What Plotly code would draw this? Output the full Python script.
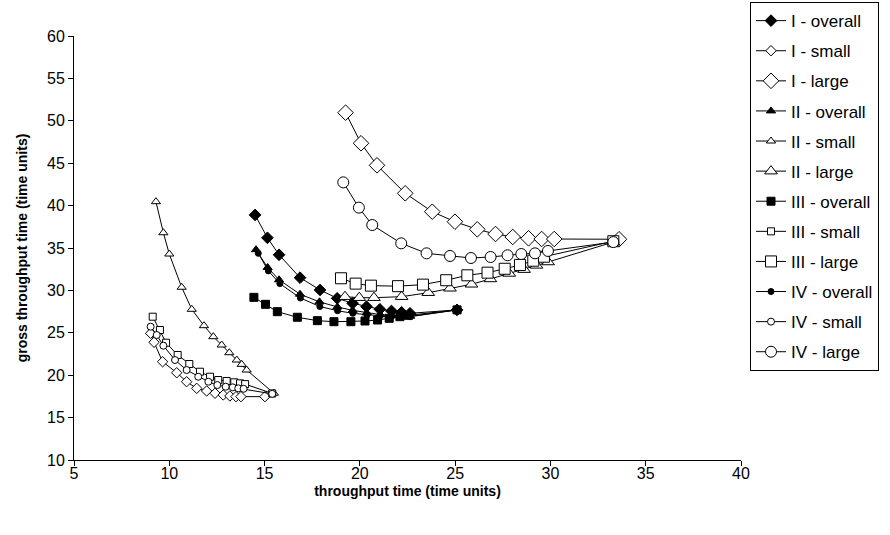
import plotly.graph_objects as go

# ---- data ----
I_overall_x = [14.5, 15.15, 15.76, 16.86, 17.91, 18.81, 19.62, 20.35, 21.05, 21.66, 22.19, 22.63, 25.1]
I_overall_y = [38.9, 36.2, 34.2, 31.5, 30.05, 29.07, 28.48, 28.08, 27.77, 27.57, 27.42, 27.3, 27.7]
I_small_x = [9.02, 9.2, 9.65, 10.39, 10.91, 11.44, 11.96, 12.4, 12.83, 13.18, 13.5, 13.76, 15.02]
I_small_y = [24.94, 23.88, 21.59, 20.29, 19.23, 18.45, 18.14, 17.87, 17.67, 17.55, 17.47, 17.47, 17.47]
I_large_x = [19.25, 20.06, 20.9, 22.38, 23.8, 24.99, 26.16, 27.12, 28.02, 28.85, 29.54, 30.2, 33.6]
I_large_y = [50.96, 47.35, 44.75, 41.45, 39.28, 38.1, 37.2, 36.65, 36.3, 36.14, 36.06, 36.06, 36.03]

II_overall_x = [14.55, 15.16, 15.76, 16.86, 17.88, 18.82, 19.62, 20.36, 21.06, 21.67, 22.2, 22.64, 25.1]
II_overall_y = [34.8, 32.7, 31.25, 29.55, 28.65, 28.05, 27.65, 27.35, 27.15, 27.05, 26.95, 26.95, 27.7]
II_small_x = [9.3, 9.69, 10.0, 10.65, 11.18, 11.82, 12.31, 12.75, 13.15, 13.54, 13.8, 14.06, 15.49]
II_small_y = [40.46, 36.8, 34.29, 30.37, 27.77, 25.84, 24.54, 23.56, 22.65, 21.79, 21.28, 20.61, 17.87]
II_large_x = [19.22, 19.97, 20.74, 22.19, 23.59, 24.73, 25.86, 26.85, 27.84, 28.62, 29.27, 29.88, 33.3]
II_large_y = [29.26, 29.14, 29.14, 29.26, 29.73, 30.25, 30.72, 31.35, 32.0, 32.45, 32.95, 33.35, 35.7]

III_overall_x = [14.44, 15.05, 15.67, 16.72, 17.77, 18.64, 19.53, 20.27, 20.93, 21.54, 22.1, 22.54, 25.1]
III_overall_y = [29.18, 28.36, 27.49, 26.83, 26.43, 26.31, 26.31, 26.39, 26.51, 26.71, 26.9, 27.06, 27.7]
III_small_x = [9.13, 9.51, 9.83, 10.44, 11.05, 11.61, 12.14, 12.57, 13.01, 13.41, 13.71, 13.98, 15.4]
III_small_y = [26.9, 25.33, 23.83, 22.38, 21.32, 20.41, 19.82, 19.43, 19.32, 19.16, 19.04, 18.95, 17.85]
III_large_x = [19.01, 19.78, 20.58, 22.0, 23.31, 24.53, 25.64, 26.7, 27.6, 28.4, 29.1, 29.66, 33.3]
III_large_y = [31.43, 30.8, 30.56, 30.5, 30.68, 31.2, 31.78, 32.09, 32.55, 33.0, 33.5, 33.97, 35.8]

IV_overall_x = [14.67, 15.2, 15.8, 16.88, 17.9, 18.83, 19.63, 20.37, 21.07, 21.68, 22.2, 22.65, 25.1]
IV_overall_y = [34.37, 32.3, 30.8, 29.1, 28.1, 27.6, 27.3, 27.1, 27.0, 26.95, 26.9, 26.9, 27.7]
IV_small_x = [9.02, 9.34, 9.69, 10.3, 10.91, 11.52, 12.05, 12.52, 12.96, 13.33, 13.62, 13.9, 15.4]
IV_small_y = [25.72, 24.74, 23.48, 21.79, 20.61, 19.82, 19.23, 18.84, 18.64, 18.57, 18.45, 18.4, 17.8]
IV_large_x = [19.13, 19.95, 20.65, 22.17, 23.5, 24.73, 25.83, 26.86, 27.75, 28.47, 29.19, 29.87, 33.3]
IV_large_y = [42.74, 39.76, 37.71, 35.55, 34.37, 34.06, 33.82, 33.94, 34.14, 34.29, 34.37, 34.65, 35.7]

x_ticks = [5, 10, 15, 20, 25, 30, 35, 40]
y_ticks = [10, 15, 20, 25, 30, 35, 40, 45, 50, 55, 60]

series = [
    ("I - overall", I_overall_x, I_overall_y, "diamond", 9, "black"),
    ("I - small", I_small_x, I_small_y, "diamond", 8, "white"),
    ("I - large", I_large_x, I_large_y, "diamond", 12, "white"),
    ("II - overall", II_overall_x, II_overall_y, "triangle-up", 8, "black"),
    ("II - small", II_small_x, II_small_y, "triangle-up", 8, "white"),
    ("II - large", II_large_x, II_large_y, "triangle-up", 11, "white"),
    ("III - overall", III_overall_x, III_overall_y, "square", 8, "black"),
    ("III - small", III_small_x, III_small_y, "square", 7, "white"),
    ("III - large", III_large_x, III_large_y, "square", 11, "white"),
    ("IV - overall", IV_overall_x, IV_overall_y, "circle", 6, "black"),
    ("IV - small", IV_small_x, IV_small_y, "circle", 7, "white"),
    ("IV - large", IV_large_x, IV_large_y, "circle", 11, "white"),
]

fig = go.Figure()
for i, (name, xs, ys, sym, size, fill) in enumerate(series):
    fig.add_trace(go.Scatter(
        x=xs, y=ys, name=name, mode="lines+markers",
        line=dict(color="black", width=1),
        marker=dict(symbol=sym, size=size, color=fill, line=dict(color="black", width=1)),
        legendgroup="g%d" % i,
    ))

font = "Liberation Sans, Arial, sans-serif"
fig.update_layout(
    width=890, height=535,
    margin=dict(l=74, r=149, t=36, b=75, autoexpand=False),
    paper_bgcolor="white", plot_bgcolor="white",
    font=dict(family=font, size=16, color="black"),
    showlegend=True,
    legend=dict(
        x=1.0135, y=1.080, xanchor="left", yanchor="top",
        bordercolor="black", borderwidth=1,
        font=dict(size=17, family=font, color="black"),
        tracegroupgap=5,
        maxheight=520,
    ),
    hovermode=False,
)
fig.update_xaxes(
    range=[5, 40], tickvals=x_ticks, showgrid=False, zeroline=False,
    showline=True, linecolor="black", linewidth=1,
    ticks="outside", ticklen=5, tickcolor="black", ticklabelstandoff=-6,
    title=dict(text="<b>throughput time (time units)</b>", font=dict(size=14), standoff=4),
)
fig.update_yaxes(
    range=[10, 60], tickvals=y_ticks, showgrid=False, zeroline=False,
    showline=True, linecolor="black", linewidth=1,
    ticks="outside", ticklen=5, tickcolor="black",
    title=dict(text="<b>gross throughput time (time units)</b>", font=dict(size=14), standoff=16),
)

fig.write_html("out.html")
